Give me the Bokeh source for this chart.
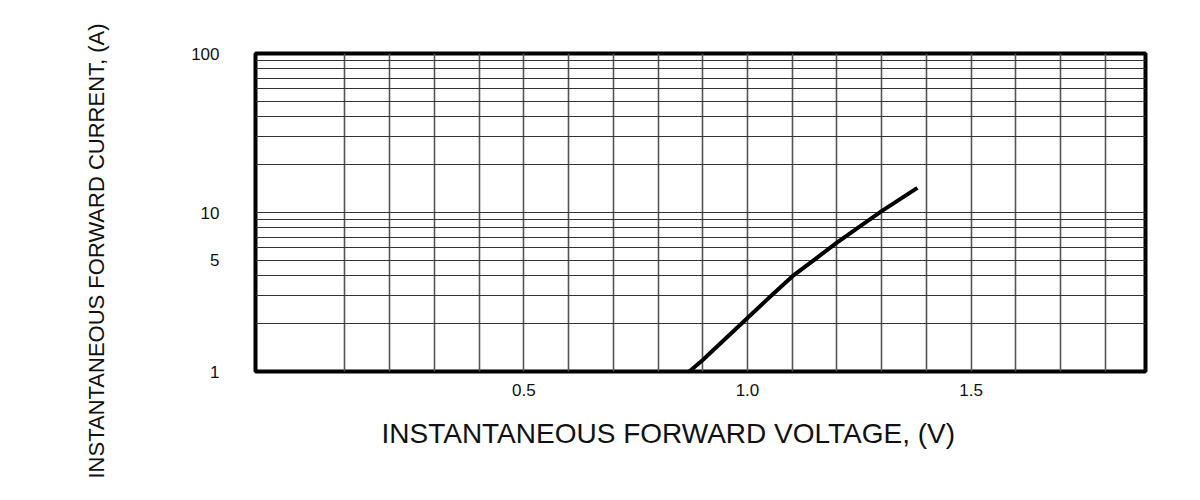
from bokeh.plotting import figure
from bokeh.models import Range1d, FixedTicker, PrintfTickFormatter, Title
from bokeh.embed import file_html
from bokeh.resources import INLINE

# --- data ---
voltage = [0.87, 0.90, 1.00, 1.05, 1.10, 1.15, 1.20, 1.25, 1.30, 1.38]
current = [1.00, 1.18, 2.17, 2.94, 3.96, 5.06, 6.46, 8.13, 10.2, 14.3]

x_tick_values = [0.5, 1.0, 1.5]
y_tick_values = [1, 5, 10, 100]
x_grid_values = [0.1, 0.2, 0.3, 0.4, 0.5, 0.6, 0.7, 0.8, 0.9, 1.0,
                 1.1, 1.2, 1.3, 1.4, 1.5, 1.6, 1.7, 1.8]
y_grid_values = [2, 3, 4, 5, 6, 7, 8, 9, 10, 20, 30, 40, 50, 60, 70, 80, 90]

x_title = "INSTANTANEOUS FORWARD VOLTAGE, (V)"
y_title = "INSTANTANEOUS FORWARD CURRENT, (A)"

p = figure(width=1184, height=484, output_backend="svg", toolbar_location=None,
           y_axis_type="log",
           x_range=Range1d(-0.1, 1.89), y_range=Range1d(1, 100),
           min_border_left=255, min_border_right=39,
           min_border_top=53, min_border_bottom=113)

p.background_fill_color = "white"
p.border_fill_color = "white"
p.outline_line_color = "black"
p.outline_line_width = 4

# grids
p.xgrid.ticker = FixedTicker(ticks=x_grid_values)
p.ygrid.ticker = FixedTicker(ticks=y_grid_values)
p.xgrid.grid_line_color = "#555555"
p.xgrid.grid_line_width = 1.6
p.ygrid.grid_line_color = "#333333"
p.ygrid.grid_line_width = 1.2

# axes
for ax in (p.xaxis, p.yaxis):
    ax.axis_line_color = None
    ax.major_tick_line_color = None
    ax.minor_tick_line_color = None
    ax.major_tick_out = 0
    ax.major_tick_in = 0
    ax.major_label_text_font = "Liberation Sans"
    ax.major_label_text_font_size = "17px"
    ax.major_label_text_color = "#111111"

p.xaxis.ticker = FixedTicker(ticks=x_tick_values)
p.xaxis.formatter = PrintfTickFormatter(format="%.1f")
p.xaxis.major_label_standoff = 12

p.yaxis.ticker = FixedTicker(ticks=y_tick_values)
p.yaxis.formatter = PrintfTickFormatter(format="%d")
p.yaxis.major_label_standoff = 36

# curve
p.line(voltage, current, line_color="black", line_width=4, line_cap="butt")

# titles
xt = Title(text=x_title, align="left", offset=126, standoff=34,
           text_font="Liberation Sans", text_font_size="28px",
           text_font_style="normal", text_color="#111111")
yt = Title(text=y_title, align="left", offset=-107, standoff=160,
           text_font="Liberation Sans", text_font_size="22px",
           text_font_style="normal", text_color="#111111")
p.add_layout(xt, "below")
p.add_layout(yt, "left")

open("out.html", "w").write(file_html(p, INLINE))
